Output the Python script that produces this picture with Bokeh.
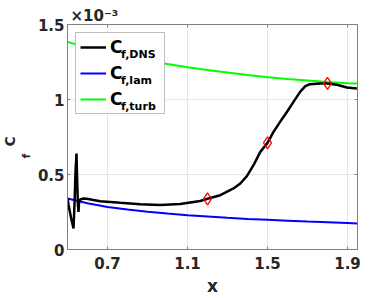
from bokeh.plotting import figure
from bokeh.models import (Range1d, FixedTicker, LinearAxis, Legend,
                          LegendItem, ColumnDataSource, Title)
from bokeh.embed import file_html
from bokeh.resources import INLINE

# ---- data (Cf values in units of 1e-3) ----
dns_x = [0.500, 0.505, 0.518, 0.530, 0.535, 0.540, 0.545, 0.548, 0.552, 0.555,
         0.558, 0.5635, 0.580, 0.597, 0.630, 0.6635, 0.7635, 0.8635, 0.9635,
         1.0635, 1.1635, 1.200, 1.264, 1.330, 1.364, 1.397, 1.430, 1.464,
         1.500, 1.530, 1.563, 1.597, 1.630, 1.663, 1.689, 1.713, 1.763,
         1.800, 1.847, 1.897, 1.947]
dns_y = [0.340, 0.300, 0.210, 0.140, 0.300, 0.520, 0.640, 0.480, 0.300, 0.250,
         0.320, 0.333, 0.340, 0.338, 0.330, 0.322, 0.311, 0.301, 0.296,
         0.304, 0.323, 0.338, 0.362, 0.407, 0.440, 0.489, 0.562, 0.651,
         0.711, 0.784, 0.851, 0.917, 0.984, 1.051, 1.089, 1.102, 1.107,
         1.107, 1.098, 1.080, 1.073]

ref_x = [0.50, 0.60, 0.70, 0.80, 0.90, 1.00, 1.10, 1.20, 1.30, 1.40, 1.50,
         1.60, 1.70, 1.80, 1.90, 1.95]
lam_y = [0.340, 0.308, 0.284, 0.267, 0.252, 0.240, 0.229, 0.220, 0.211, 0.204,
         0.198, 0.192, 0.186, 0.181, 0.176, 0.173]
turb_y = [1.384, 1.345, 1.312, 1.284, 1.259, 1.236, 1.215, 1.197, 1.180, 1.163,
          1.148, 1.137, 1.127, 1.117, 1.109, 1.106]

mark_x = [1.2, 1.5, 1.8]
mark_y = [0.338, 0.711, 1.107]

x_ticks = [0.7, 1.1, 1.5, 1.9]
y_ticks = [0, 0.5, 1, 1.5]
y_tick_labels = ["0", "0.5", "1", "1.5"]
legend_subs = ["f,DNS", "f,lam", "f,turb"]

FONT = "DejaVu Sans"
TXT = "#262626"
AX = "#808080"

p = figure(width=381, height=298, x_range=Range1d(0.5, 1.95),
           y_range=Range1d(0, 1.5), output_backend="svg",
           toolbar_location=None, min_border_left=67, min_border_right=24,
           min_border_top=24, min_border_bottom=49)
p.outline_line_color = None
p.background_fill_color = "white"

def style_axis(ax, ticks, labels=True):
    ax.ticker = FixedTicker(ticks=ticks)
    ax.major_tick_in = 3
    ax.major_tick_out = 0
    ax.minor_tick_line_color = None
    ax.axis_line_color = AX
    ax.major_tick_line_color = AX
    ax.major_label_text_font = FONT
    ax.major_label_text_font_style = "bold"
    ax.major_label_text_font_size = "15px"
    ax.major_label_text_color = TXT if labels else None

style_axis(p.xaxis[0], x_ticks)
p.xaxis[0].major_label_standoff = 7
p.xaxis[0].axis_label = "x"
p.xaxis[0].axis_label_text_font = FONT
p.xaxis[0].axis_label_text_font_style = "bold"
p.xaxis[0].axis_label_text_font_size = "17px"
p.xaxis[0].axis_label_text_color = TXT
p.xaxis[0].axis_label_standoff = 4
style_axis(p.yaxis[0], y_ticks)
p.yaxis[0].major_label_standoff = 3
p.yaxis[0].major_label_overrides = {t: l for t, l in zip(y_ticks, y_tick_labels)}

top = LinearAxis()
style_axis(top, x_ticks, labels=False)
top.major_label_text_font_size = "0px"
top.major_label_standoff = 0
p.add_layout(top, "above")
right = LinearAxis()
style_axis(right, y_ticks, labels=False)
right.major_label_text_font_size = "0px"
right.major_label_standoff = 0
p.add_layout(right, "right")

p.xgrid.ticker = FixedTicker(ticks=x_ticks)
p.ygrid.ticker = FixedTicker(ticks=y_ticks)
p.xgrid.grid_line_color = "#e6e6e6"
p.ygrid.grid_line_color = "#e6e6e6"

src_ref = ColumnDataSource(dict(x=ref_x, lam=lam_y, turb=turb_y))
r_turb = p.line("x", "turb", source=src_ref, line_color="#00ff00", line_width=2)
r_lam = p.line("x", "lam", source=src_ref, line_color="#0000ff", line_width=2)
r_dns = p.line(dns_x, dns_y, line_color="black", line_width=2.5)
p.scatter(mark_x, mark_y, marker="diamond", size=12, fill_color=None,
          line_color="#ff0000", line_width=1.3)
# invisible helper glyph used only as the key of the subscript legend
r_blank = p.line(ref_x[:2], lam_y[:2], line_alpha=0)

common = dict(location="top_left", padding=4,
              label_text_font=FONT, label_text_font_style="bold",
              label_text_color="black")

legend = Legend(items=[LegendItem(label="C", renderers=[r_dns]),
                       LegendItem(label="C", renderers=[r_lam]),
                       LegendItem(label="C", renderers=[r_turb])],
                margin=8, spacing=6, glyph_height=20, label_height=20,
                glyph_width=26, label_width=50, label_standoff=4,
                label_text_font_size="17px",
                border_line_color=AX, background_fill_alpha=1.0, **common)
p.add_layout(legend)

legend_sub = Legend(items=[LegendItem(label=s, renderers=[r_blank]) for s in legend_subs],
                    margin=18, spacing=2, glyph_height=24, label_height=24,
                    glyph_width=32, label_width=40, label_standoff=4,
                    label_text_font_size="11px",
                    border_line_color=None, background_fill_alpha=0.0, **common)
p.add_layout(legend_sub)

# exponent multiplier above the axes
p.add_layout(Title(text="\u00d710\u207b\u00b3", align="left", offset=3,
                   text_font=FONT, text_font_style="bold",
                   text_font_size="15px", text_color=TXT, standoff=0), "above")

# y label C_f as two vertical titles (subscript closer to the axis)
p.add_layout(Title(text="          f", align="center", text_font=FONT,
                   text_font_style="bold", text_font_size="11px",
                   text_line_height=1.0, vertical_align="top",
                   text_color=TXT, standoff=0), "left")
p.add_layout(Title(text="C", align="left", offset=103, text_font=FONT,
                   text_font_style="bold", text_font_size="14px",
                   text_line_height=1.0, vertical_align="top",
                   text_color=TXT, standoff=0), "left")

open("out.html", "w").write(file_html(p, INLINE))
